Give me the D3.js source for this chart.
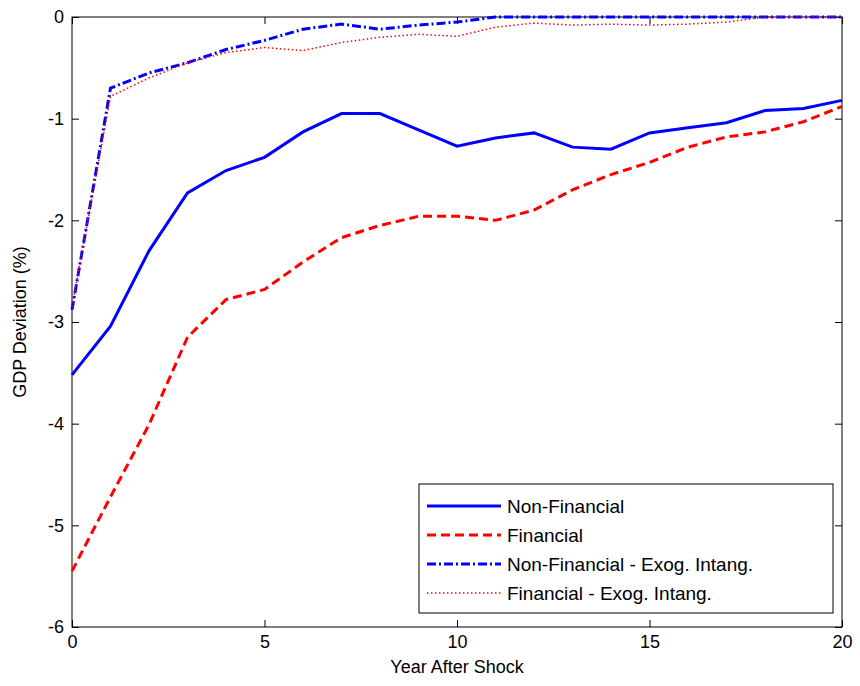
<!DOCTYPE html>
<html><head><meta charset="utf-8">
<script src="https://cdn.jsdelivr.net/npm/d3@7"></script>
<style>body{margin:0;background:#fff}text{font-family:"Liberation Sans",Arial,sans-serif}</style>
</head><body>
<script>
var years = d3.range(0, 21);
var nonFin = [-3.52,-3.04,-2.3,-1.73,-1.51,-1.38,-1.13,-0.95,-0.95,-1.11,-1.27,-1.19,-1.14,-1.28,-1.3,-1.14,-1.09,-1.04,-0.92,-0.9,-0.82];
var fin = [-5.45,-4.72,-4.01,-3.15,-2.78,-2.68,-2.41,-2.17,-2.05,-1.96,-1.96,-2.0,-1.9,-1.7,-1.55,-1.43,-1.28,-1.18,-1.13,-1.03,-0.88];
var nonFinExo = [-2.88,-0.7,-0.55,-0.45,-0.32,-0.23,-0.12,-0.07,-0.12,-0.08,-0.05,0,0,0,0,0,0,0,0,0,0];
var finExo = [-2.85,-0.78,-0.6,-0.45,-0.35,-0.3,-0.33,-0.25,-0.2,-0.17,-0.19,-0.1,-0.06,-0.08,-0.07,-0.08,-0.07,-0.05,0,0,0];
var xTicks = [0,5,10,15,20];
var yTicks = [-6,-5,-4,-3,-2,-1,0];

var series = [
  {name:"Non-Financial", v:nonFin, c:"#0000ff", d:null},
  {name:"Financial", v:fin, c:"#ff0000", d:"9,5"},
  {name:"Non-Financial - Exog. Intang.", v:nonFinExo, c:"#0000ff", d:"9,3,2,3"},
  {name:"Financial - Exog. Intang.", v:finExo, c:"#ff0000", d:"1.5,2.5", w:1.5}
];

var W = 860, H = 686, L = 72, R = 842, T = 17, B = 627;
var svg = d3.select("body").append("svg").attr("width", W).attr("height", H);
var x = d3.scaleLinear().domain([0,20]).range([L,R]);
var y = d3.scaleLinear().domain([-6,0]).range([B,T]);
var fmt = function(d){ return String(d); };

svg.append("rect").attr("x",L).attr("y",T).attr("width",R-L).attr("height",B-T)
  .attr("fill","none").attr("stroke","#000");

function ax(g){ g.selectAll(".domain").remove(); g.selectAll("text").attr("font-size",18).attr("fill","#000"); }
svg.append("g").attr("transform","translate(0,"+B+")")
  .call(d3.axisBottom(x).tickValues(xTicks).tickSize(-7).tickPadding(8).tickFormat(fmt)).call(ax);
svg.append("g").attr("transform","translate(0,"+T+")")
  .call(d3.axisTop(x).tickValues(xTicks).tickSize(-7).tickFormat("")).call(ax);
svg.append("g").attr("transform","translate("+L+",0)")
  .call(d3.axisLeft(y).tickValues(yTicks).tickSize(-7).tickPadding(8).tickFormat(fmt)).call(ax);
svg.append("g").attr("transform","translate("+R+",0)")
  .call(d3.axisRight(y).tickValues(yTicks).tickSize(-7).tickFormat("")).call(ax);

var line = d3.line().x(function(d,i){return x(years[i]);}).y(function(d){return y(d);});
series.forEach(function(s){
  svg.append("path").attr("d", line(s.v)).attr("fill","none")
    .attr("stroke", s.c).attr("stroke-width", s.w || 3).attr("stroke-dasharray", s.d);
});

svg.append("text").attr("x",(L+R)/2).attr("y",673).attr("text-anchor","middle").attr("font-size",18).text("Year After Shock");
svg.append("text").attr("transform","translate(26,"+((T+B)/2)+") rotate(-90)").attr("text-anchor","middle").attr("font-size",18).text("GDP Deviation (%)");

var lg = svg.append("g").attr("transform","translate(419,484)");
lg.append("rect").attr("width",414).attr("height",129).attr("fill","#fff").attr("stroke","#000");
series.forEach(function(s,i){
  var yy = 22 + i*29;
  lg.append("line").attr("x1",8).attr("x2",82).attr("y1",yy).attr("y2",yy)
    .attr("stroke",s.c).attr("stroke-width",s.w||3).attr("stroke-dasharray",s.d);
  lg.append("text").attr("x",88).attr("y",yy+7).attr("font-size",19).text(s.name);
});
</script>
</body></html>
